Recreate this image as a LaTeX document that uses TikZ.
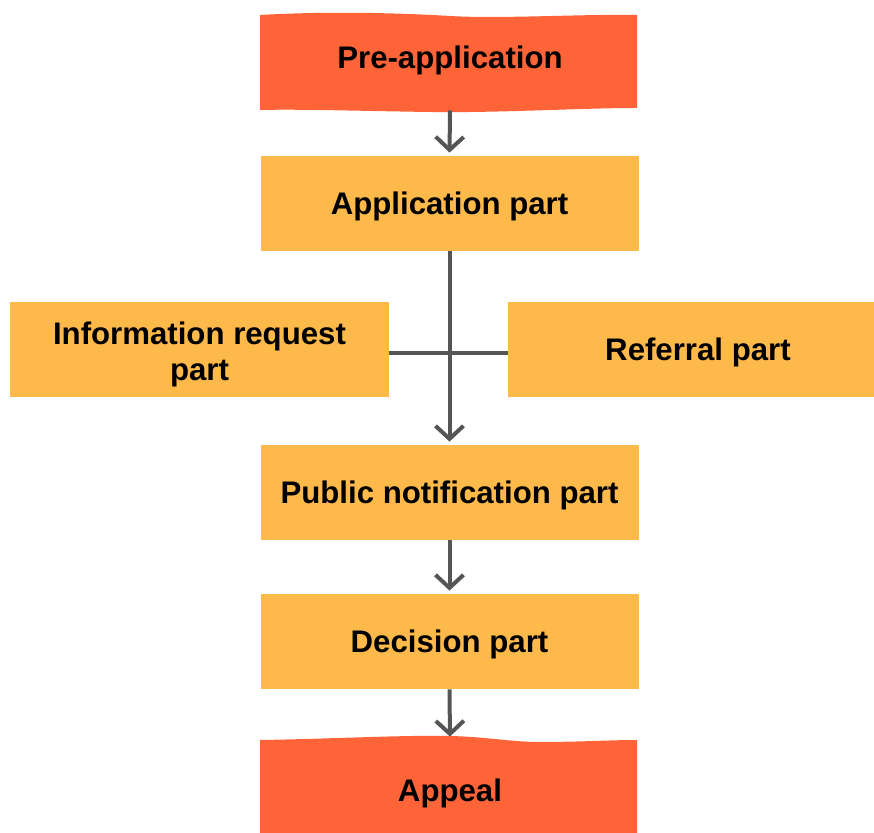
\documentclass[tikz,border=0pt]{standalone}
\usepackage{fontspec}
\setmainfont{Liberation Sans}
\usetikzlibrary{arrows.meta}
\definecolor{wavecol}{HTML}{FF6439}
\definecolor{boxcol}{HTML}{FDB94A}
\definecolor{conncol}{HTML}{555555}
\begin{document}
\begin{tikzpicture}[x=0.5pt,y=-0.5pt,
  lbl/.style={font=\fontsize{15.6}{18}\selectfont\bfseries, text=black, inner sep=0pt},
  stepbox/.style={lbl, fill=boxcol, minimum width=189pt, minimum height=47.5pt, text height=11.2pt, text depth=0pt},
  multibox/.style={lbl, fill=boxcol, minimum width=189.5pt, minimum height=47.5pt, align=center},
  wavebox/.style={lbl, minimum width=188.5pt, minimum height=47.5pt, text height=11.2pt, text depth=0pt},
  flow/.style={draw=conncol, line width=2pt, -{Straight Barb[length=6.5pt,width=14pt]}, shorten >=1.5pt},
  link/.style={draw=conncol, line width=2pt}]
\useasboundingbox (0,0) rectangle (874,833);
\fill[white] (0,0) rectangle (874,833);
\begin{scope}
\clip (0,0) rectangle (874,833);
% wavy banners
\fill[wavecol] (260,15) .. controls (330,11) and (400,13) .. (450,16)
  .. controls (500,19) and (580,14) .. (637,15) -- (637,108)
  .. controls (580,108) and (500,113) .. (430,112)
  .. controls (360,111) and (300,109) .. (260,110) -- cycle;
\fill[wavecol] (260,740) .. controls (330,739) and (400,735) .. (450,736)
  .. controls (490,737) and (510,742) .. (540,742)
  .. controls (580,742) and (610,740) .. (637,740) -- (637,850) -- (260,850) -- cycle;
% nodes
\node[wavebox] (pre) at (450,62.5) {\raisebox{2.5pt}{Pre-application}};
\node[stepbox] (app) at (449.5,203.5) {Application part};
\node[multibox] (info) at (199.5,349.5) {\rule{0pt}{16pt}Information request\\part};
\node[stepbox, minimum width=190pt] (ref) at (698,349.5) {Referral part};
\node[stepbox] (pub) at (449.5,492.5) {Public notification part};
\node[stepbox] (dec) at (449.5,641.5) {Decision part};
\node[wavebox, minimum height=50pt] (appeal) at (450,790) {Appeal};
% connectors
\draw[flow] (pre.south) -- (app.north);
\draw[link] ([yshift=-1.75pt]info.east) -- ([yshift=-1.75pt]ref.west);
\draw[flow] (app.south) -- (pub.north);
\draw[flow] (pub.south) -- (dec.north);
\draw[flow] (dec.south) -- (appeal.north);
\end{scope}
\end{tikzpicture}
\end{document}
